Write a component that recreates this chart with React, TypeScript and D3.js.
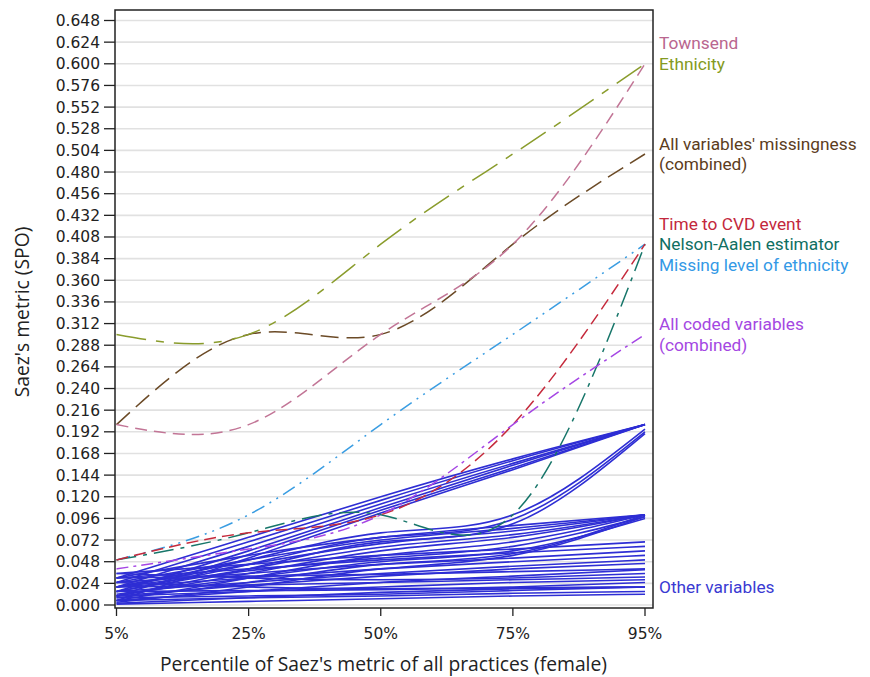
import React from "react";
import * as d3 from "d3";

const W = 870;
const H = 677;

// x categories (percentiles)
const xCats = ["5%", "25%", "50%", "75%", "95%"];

// y tick values
const yTicks = d3.range(0, 28).map((i) => +(i * 0.024).toFixed(3));

// Named series: values at 5%, 25%, 50%, 75%, 95%
const townsend = [0.2, 0.2, 0.3, 0.4, 0.6];
const ethnicity = [0.3, 0.3, 0.4, 0.5, 0.6];
const allMissingness = [0.2, 0.3, 0.3, 0.4, 0.5];
const timeToCVD = [0.05, 0.08, 0.1, 0.2, 0.4];
const nelsonAalen = [0.05, 0.08, 0.1, 0.1, 0.4];
const missingEthnicity = [0.05, 0.1, 0.2, 0.3, 0.4];
const allCoded = [0.04, 0.062, 0.1, 0.2, 0.3];

// Other variables
const otherVariables: number[][] = [
  [0.03, 0.075, 0.12, 0.162, 0.2],
  [0.025, 0.07, 0.116, 0.16, 0.2],
  [0.02, 0.065, 0.112, 0.157, 0.2],
  [0.015, 0.06, 0.108, 0.155, 0.2],
  [0.01, 0.056, 0.105, 0.152, 0.2],
  [0.005, 0.052, 0.102, 0.15, 0.2],
  [0.02, 0.05, 0.08, 0.1, 0.195],
  [0.015, 0.045, 0.075, 0.095, 0.192],
  [0.01, 0.04, 0.07, 0.09, 0.19],
  [0.03, 0.055, 0.075, 0.088, 0.1],
  [0.025, 0.05, 0.072, 0.085, 0.1],
  [0.02, 0.045, 0.068, 0.082, 0.1],
  [0.015, 0.04, 0.064, 0.078, 0.1],
  [0.01, 0.035, 0.06, 0.075, 0.1],
  [0.005, 0.03, 0.055, 0.07, 0.1],
  [0.02, 0.038, 0.052, 0.065, 0.098],
  [0.012, 0.03, 0.048, 0.06, 0.096],
  [0.008, 0.025, 0.045, 0.057, 0.1],
  [0.003, 0.02, 0.04, 0.055, 0.098],
  [0.035, 0.045, 0.055, 0.062, 0.07],
  [0.03, 0.04, 0.05, 0.058, 0.065],
  [0.025, 0.035, 0.045, 0.052, 0.06],
  [0.02, 0.03, 0.04, 0.048, 0.055],
  [0.015, 0.025, 0.035, 0.043, 0.05],
  [0.01, 0.022, 0.032, 0.04, 0.046],
  [0.03, 0.032, 0.034, 0.037, 0.04],
  [0.005, 0.015, 0.025, 0.032, 0.039],
  [0.02, 0.022, 0.025, 0.028, 0.031],
  [0.01, 0.015, 0.02, 0.025, 0.028],
  [0.002, 0.008, 0.014, 0.018, 0.02],
  [0.015, 0.016, 0.017, 0.019, 0.02],
  [0.005, 0.008, 0.01, 0.013, 0.015],
  [0.001, 0.004, 0.007, 0.01, 0.012],
  [0.025, 0.02, 0.018, 0.02, 0.025],
  [0.008, 0.01, 0.012, 0.016, 0.02],
  [0.035, 0.03, 0.028, 0.03, 0.035],
];

const namedSeries = [
  { name: "All variables' missingness", values: allMissingness, color: "#6b4a26", dash: "18,8" },
  { name: "Ethnicity", values: ethnicity, color: "#8a9c2c", dash: "30,10,8,10" },
  { name: "Townsend", values: townsend, color: "#c27596", dash: "12,7" },
  { name: "Missing level of ethnicity", values: missingEthnicity, color: "#3a9de2", dash: "14,6,2,6,2,6" },
  { name: "Nelson-Aalen estimator", values: nelsonAalen, color: "#17766a", dash: "20,7,4,7" },
  { name: "Time to CVD event", values: timeToCVD, color: "#c52a3c", dash: "12,6" },
  { name: "All coded variables", values: allCoded, color: "#a546e4", dash: "12,5,3,5" },
];

// Right-hand labels: anchor value + line offset
const labels = [
  { text: "Townsend", anchor: 0.6, offset: -1, color: "#b9668f" },
  { text: "Ethnicity", anchor: 0.6, offset: 0, color: "#849a22" },
  { text: "All variables' missingness", anchor: 0.5, offset: -0.5, color: "#5c3c1c" },
  { text: "(combined)", anchor: 0.5, offset: 0.5, color: "#5c3c1c" },
  { text: "Time to CVD event", anchor: 0.4, offset: -1, color: "#c3283c" },
  { text: "Nelson-Aalen estimator", anchor: 0.4, offset: 0, color: "#0f6f62" },
  { text: "Missing level of ethnicity", anchor: 0.4, offset: 1, color: "#3399e6" },
  { text: "All coded variables", anchor: 0.3, offset: -0.5, color: "#a447e2" },
  { text: "(combined)", anchor: 0.3, offset: 0.5, color: "#a447e2" },
  { text: "Other variables", anchor: 0.02, offset: 0, color: "#3a3ad2" },
];

const plotL = 115;
const plotR = 653;
const plotT = 10;
const plotB = 608;

export default function App() {
  const x = d3.scalePoint<string>().domain(xCats).range([116.5, 645]);
  const y = d3.scaleLinear().domain([0, 0.648]).range([605, 20.5]);
  const line = d3
    .line<number>()
    .x((_, i) => x(xCats[i]) as number)
    .y((d) => y(d))
    .curve(d3.curveNatural);
  const lineH = 20.6;

  return (
    <svg
      width={W}
      height={H}
      style={{ position: "absolute", left: 0, top: 0, background: "#fff" }}
      fontFamily="'DejaVu Sans', sans-serif"
    >
      <rect x={0} y={0} width={W} height={H} fill="#fff" />
      {/* grid */}
      {yTicks.map((t) => (
        <line
          key={"g" + t}
          x1={plotL}
          x2={plotR}
          y1={y(t)}
          y2={y(t)}
          stroke="#e1e1e1"
          strokeWidth={1.6}
        />
      ))}
      {/* other variables */}
      <g fill="none" stroke="#2e2ed4" strokeWidth={1.6}>
        {otherVariables.map((v, i) => (
          <path key={"o" + i} d={line(v) || ""} />
        ))}
      </g>
      {/* named series */}
      <g fill="none" strokeWidth={1.5}>
        {namedSeries.map((s) => (
          <path key={s.name} d={line(s.values) || ""} stroke={s.color} strokeDasharray={s.dash} />
        ))}
      </g>
      {/* frame */}
      <rect
        x={plotL}
        y={plotT}
        width={plotR - plotL}
        height={plotB - plotT}
        fill="none"
        stroke="#222"
        strokeWidth={1.5}
      />
      {/* y axis ticks */}
      {yTicks.map((t) => (
        <g key={"yt" + t}>
          <line x1={104} x2={plotL} y1={y(t)} y2={y(t)} stroke="#222" strokeWidth={1.3} />
          <text x={100} y={y(t) + 5.5} textAnchor="end" fontSize={15.5} fill="#222">
            {t.toFixed(3)}
          </text>
        </g>
      ))}
      {/* x axis ticks */}
      {xCats.map((c) => (
        <g key={"xt" + c}>
          <line x1={x(c)} x2={x(c)} y1={plotB} y2={plotB + 8} stroke="#222" strokeWidth={1.3} />
          <text x={x(c)} y={639} textAnchor="middle" fontSize={15.5} fill="#222">
            {c}
          </text>
        </g>
      ))}
      {/* axis titles */}
      <text
        x={(plotL + plotR) / 2 - 0.5}
        y={671}
        textAnchor="middle"
        fontSize={19.3}
        fontFamily="'Open Sans', sans-serif"
        fill="#222"
      >
        Percentile of Saez's metric of all practices (female)
      </text>
      <text
        transform={`translate(29, ${(plotT + plotB) / 2 + 3}) rotate(-90)`}
        textAnchor="middle"
        fontSize={19.3}
        fontFamily="'Open Sans', sans-serif"
        fill="#222"
      >
        Saez's metric (SPO)
      </text>
      {/* right labels */}
      {labels.map((l, i) => (
        <text
          key={"l" + i}
          x={659}
          y={y(l.anchor) + l.offset * lineH + 6}
          fontSize={17.3}
          fontFamily="Roboto, sans-serif"
          fill={l.color}
        >
          {l.text}
        </text>
      ))}
    </svg>
  );
}
